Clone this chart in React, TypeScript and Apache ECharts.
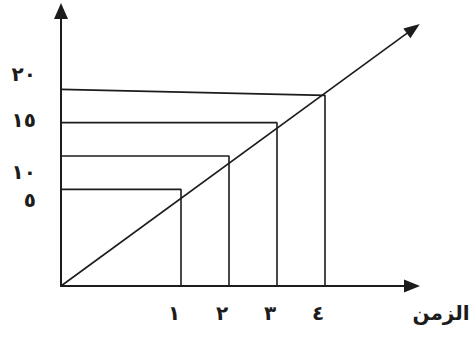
import React, { useEffect, useRef } from "react";
import * as echarts from "echarts";

// Values of the sketch
const timeValues = [1, 2, 3, 4];
const timeLabels = ["١", "٢", "٣", "٤"];
const distanceValues = [5, 10, 15, 20];
// where each guide meets the diagonal (the top one is drawn slightly slanted)
const cornerValues = [5, 10, 15, 19.1];
const distanceLabels = ["٥", "١٠", "١٥", "٢٠"];
// where the hand-placed distance labels sit on the distance scale
const distanceLabelAt = [3.4, 7.6, 15.4, 22.3];
const xAxisName = "الزمن";

const X_MIN = -1.5;
const X_MAX = 5.8125;
const Y_MIN = -9.5;
const Y_MAX = 31.75;
const diagonalEnd: [number, number] = [5.84, 29.1];

const INK = "#1c1c1c";
const FONT = "DejaVu Sans";

export default function App() {
  const ref = useRef<HTMLDivElement>(null);
  useEffect(() => {
    if (!ref.current) return;
    const chart = echarts.init(ref.current, null, { renderer: "svg" });

    const guideSeries = timeValues.map((t, i) => ({
      type: "line",
      data: [
        [X_MIN, distanceValues[i]],
        [t, cornerValues[i]],
        [t, Y_MIN],
      ],
      symbol: "none",
      clip: false,
      lineStyle: { color: INK, width: 1.6 },
      z: 3,
    }));

    const diagonal = {
      type: "line",
      data: [
        { value: [X_MIN, Y_MIN], symbol: "none" },
        { value: diagonalEnd, symbol: "triangle", symbolSize: [12, 16], symbolRotate: -54 },
      ],
      showSymbol: true,
      clip: false,
      itemStyle: { color: INK },
      lineStyle: { color: INK, width: 1.6 },
      z: 4,
    };

    chart.setOption({
      animation: false,
      grid: {
        left: 61,
        top: 11,
        width: 351,
        height: 275,
        containLabel: false,
        outerBoundsMode: "none",
      },
      xAxis: {
        type: "value",
        min: X_MIN,
        max: X_MAX,
        splitLine: { show: false },
        axisTick: { show: false },
        axisLine: {
          onZero: false,
          symbol: ["none", "triangle"],
          symbolSize: [13, 16],
          lineStyle: { color: INK, width: 2 },
        },
        axisLabel: {
          customValues: timeValues,
          formatter: (v: number) => {
            const i = timeValues.findIndex((t) => Math.abs(t - v) < 1e-6);
            return i >= 0 ? timeLabels[i] : "";
          },
          margin: 17,
          padding: [0, 14, 0, 0],
          color: INK,
          fontFamily: FONT,
          fontWeight: "bold",
          fontSize: 20,
        },
        name: xAxisName,
        nameLocation: "end",
        nameGap: 29,
        nameTextStyle: {
          align: "center",
          verticalAlign: "top",
          padding: [17, 0, 0, 0],
          color: INK,
          fontFamily: FONT,
          fontWeight: "bold",
          fontSize: 20,
        },
      },
      yAxis: {
        type: "value",
        min: Y_MIN,
        max: Y_MAX,
        splitLine: { show: false },
        axisTick: { show: false },
        axisLine: {
          onZero: false,
          symbol: ["none", "triangle"],
          symbolSize: [14, 16],
          lineStyle: { color: INK, width: 2 },
        },
        axisLabel: {
          customValues: distanceLabelAt,
          formatter: (v: number) => {
            const i = distanceLabelAt.findIndex((t) => Math.abs(t - v) < 1e-6);
            return i >= 0 ? distanceLabels[i] : "";
          },
          margin: 25,
          color: INK,
          fontFamily: FONT,
          fontWeight: "bold",
          fontSize: 20,
        },
      },
      series: [...guideSeries, diagonal],
    });
    return () => chart.dispose();
  }, []);
  return (
    <div
      ref={ref}
      style={{ position: "absolute", left: 0, top: 0, width: 473, height: 338 }}
    />
  );
}
